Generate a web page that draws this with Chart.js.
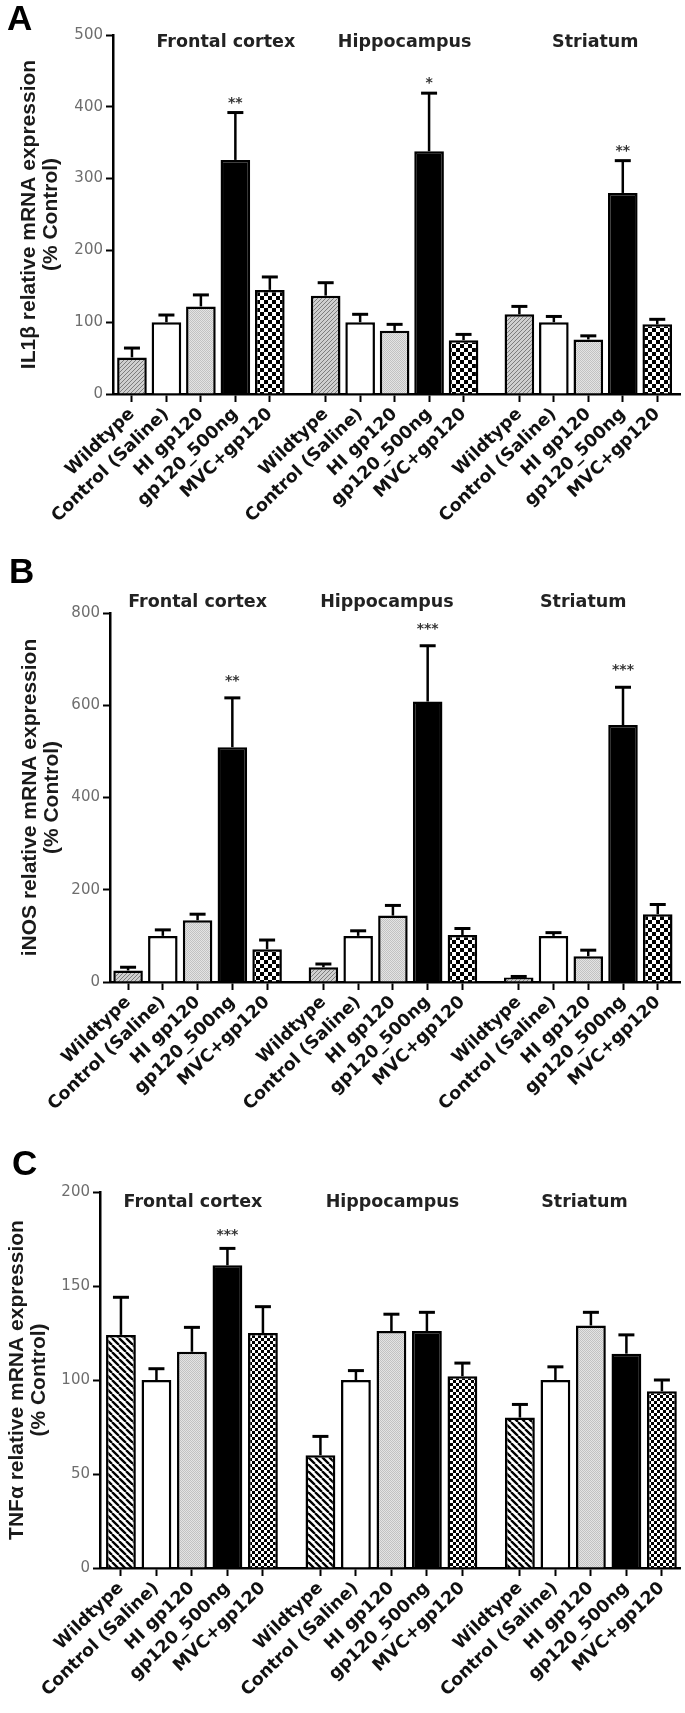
<!DOCTYPE html>
<html><head><meta charset="utf-8">
<script src="https://cdn.jsdelivr.net/npm/chart.js@4.4.1/dist/chart.umd.min.js"></script>
<style>
html,body{margin:0;padding:0;background:#fff;}
body{width:685px;height:1713px;position:relative;overflow:hidden;}
canvas{position:absolute;left:0;}
</style></head><body>
<canvas id="cA" width="685" height="540" style="top:0px"></canvas>
<canvas id="cB" width="685" height="588" style="top:540px"></canvas>
<canvas id="cC" width="685" height="585" style="top:1128px"></canvas>
<script>
// ---------- data ----------
const regions = ['Frontal cortex', 'Hippocampus', 'Striatum'];
const treatments = ['Wildtype', 'Control (Saline)', 'HI gp120', 'gp120_500ng', 'MVC+gp120'];

const il1bMean = [[51, 100, 122, 326, 145], [137, 100, 88, 338, 75], [111, 100, 76, 280, 97]];
const il1bSem  = [[13, 10, 16, 66, 18], [18, 11, 9, 81, 8], [11, 8, 5, 45, 7]];
const il1bSig  = [['', '', '', '**', ''], ['', '', '', '*', ''], ['', '', '', '**', '']];
const il1bTicks = [0, 100, 200, 300, 400, 500];

const inosMean = [[25, 100, 134, 509, 71], [32, 100, 144, 608, 102], [10, 100, 56, 557, 147]];
const inosSem  = [[7, 13, 13, 107, 20], [7, 11, 22, 121, 14], [2, 7, 13, 82, 21]];
const inosSig  = [['', '', '', '**', ''], ['', '', '', '***', ''], ['', '', '', '***', '']];
const inosTicks = [0, 200, 400, 600, 800];

const tnfMean = [[124, 100, 115, 161, 125], [60, 100, 126, 126, 102], [80, 100, 129, 114, 94]];
const tnfSem  = [[20, 6, 13, 9, 14], [10, 5, 9, 10, 7], [7, 7, 7, 10, 6]];
const tnfSig  = [['', '', '', '***', ''], ['', '', '', '', ''], ['', '', '', '', '']];
const tnfTicks = [0, 50, 100, 150, 200];

// ---------- styling helpers ----------
const GROUP_STRIDE = 5.62;
const TITLE_FONT = 'bold 17.5px "DejaVu Sans", sans-serif';

function tile(size, draw) {
  const c = document.createElement('canvas');
  c.width = c.height = size;
  draw(c.getContext('2d'), size);
  return c;
}
function patterns(ctx, wtStyle, cell) {
  const wt = wtStyle === 'fine'
    ? tile(4, (g, s) => { g.fillStyle = '#cfcfcf'; g.fillRect(0, 0, s, s); g.strokeStyle = '#7d7d7d'; g.lineWidth = 1; g.beginPath(); for (const k of [-s, 0, s]) { g.moveTo(k, s); g.lineTo(k + s, 0); } g.stroke(); })
    : tile(7, (g, s) => { g.fillStyle = '#fff'; g.fillRect(0, 0, s, s); g.strokeStyle = '#000'; g.lineWidth = 2.3; g.beginPath(); for (const k of [-s, 0, s]) { g.moveTo(k, 0); g.lineTo(k + s, s); } g.stroke(); });
  const hi = tile(2, (g) => { g.fillStyle = '#e4e4e4'; g.fillRect(0, 0, 2, 2); g.fillStyle = '#c2c2c2'; g.fillRect(0, 0, 1, 1); g.fillRect(1, 1, 1, 1); });
  const mvc = tile(cell * 2, (g, s) => { g.fillStyle = '#000'; g.fillRect(0, 0, s, s); g.fillStyle = '#fff'; g.fillRect(0, 0, cell, cell); g.fillRect(cell, cell, cell, cell); });
  return [ctx.createPattern(wt, 'repeat'), '#ffffff', ctx.createPattern(hi, 'repeat'), '#000000', ctx.createPattern(mvc, 'repeat')];
}

function buildPanel(cfg) {
  const canvas = document.getElementById(cfg.id);
  const ctx = canvas.getContext('2d');
  const fills = patterns(ctx, cfg.wtStyle, cfg.checker);
  const positions = [];
  const values = [];
  const colors = [];
  cfg.mean.forEach((grp, g) => grp.forEach((v, i) => {
    positions.push(g * GROUP_STRIDE + i);
    values.push({ x: g * GROUP_STRIDE + i, y: v });
    colors.push(fills[i]);
  }));
  const ticks = cfg.ticks;

  const decor = {
    id: 'decor',
    afterDatasetsDraw(chart) {
      const c = chart.ctx, ys = chart.scales.y, meta = chart.getDatasetMeta(0);
      c.save();
      meta.data.forEach((bar, k) => {
        const g = Math.floor(k / 5), i = k % 5;
        const m = cfg.mean[g][i], s = cfg.sem[g][i];
        const top = ys.getPixelForValue(m), et = ys.getPixelForValue(m + s);
        c.strokeStyle = '#000';
        c.lineWidth = 2.5;
        c.beginPath(); c.moveTo(bar.x, top); c.lineTo(bar.x, et); c.stroke();
        c.lineWidth = 3;
        c.beginPath(); c.moveTo(bar.x - 8, et); c.lineTo(bar.x + 8, et); c.stroke();
        const sg = cfg.sig[g][i];
        if (sg) {
          c.font = 'bold 14px "DejaVu Sans", sans-serif';
          c.fillStyle = '#333';
          c.textAlign = 'center';
          c.textBaseline = 'alphabetic';
          c.fillText(sg, bar.x, et - cfg.starGap + 8);
        }
      });
      c.restore();
    },
    afterDraw(chart) {
      const c = chart.ctx, xs = chart.scales.x;
      c.save();
      c.fillStyle = '#222';
      c.font = TITLE_FONT;
      c.textAlign = 'center';
      c.textBaseline = 'alphabetic';
      regions.forEach((r, g) => {
        const cx = xs.getPixelForValue(g * GROUP_STRIDE + 2) + cfg.titleDX[g];
        c.fillText(r, cx, cfg.titleBase);
      });
      c.fillStyle = '#000';
      c.font = 'bold 35px "Liberation Sans", Arial, sans-serif';
      c.textAlign = 'left';
      c.fillText(cfg.letter, cfg.letterX, cfg.letterBase);
      c.restore();
    }
  };

  return new Chart(ctx, {
    type: 'bar',
    data: {
      datasets: [{
        data: values,
        backgroundColor: colors,
        borderColor: '#000',
        borderWidth: 2.5,
        borderSkipped: 'start',
        barPercentage: cfg.barPct,
        categoryPercentage: 1
      }]
    },
    options: {
      responsive: false,
      animation: false,
      devicePixelRatio: 1,
      layout: { padding: { top: cfg.padTop, left: 0, right: 5, bottom: 0 } },
      plugins: { legend: { display: false }, tooltip: { enabled: false } },
      scales: {
        x: {
          type: 'linear',
          offset: false,
          min: cfg.xMin,
          max: cfg.xMax,
          z: 1,
          afterBuildTicks: (sc) => { sc.ticks = positions.map(p => ({ value: p })); },
          afterFit: (sc) => { sc.height = cfg.xHeight; },
          ticks: {
            autoSkip: false,
            maxRotation: 44,
            minRotation: 44,
            padding: 2,
            color: '#111',
            font: { family: '"DejaVu Sans", sans-serif', size: 17.5, weight: 'bold' },
            callback: (v, i) => treatments[i % 5]
          },
          grid: { display: true, drawOnChartArea: false, drawTicks: true, tickLength: 8, tickWidth: 2, tickColor: '#000', offset: false },
          border: { display: true, color: '#000', width: 2.5 }
        },
        y: {
          min: ticks[0],
          max: ticks[ticks.length - 1],
          z: 1,
          afterFit: (sc) => { sc.width = cfg.yWidth; },
          ticks: {
            stepSize: ticks[1] - ticks[0],
            padding: 3,
            color: '#6e6e6e',
            font: { family: '"DejaVu Sans", sans-serif', size: 15 }
          },
          grid: { display: true, drawOnChartArea: false, drawTicks: true, tickLength: 7, tickWidth: 2, tickColor: '#000' },
          border: { display: true, color: '#000', width: 2.5 },
          title: {
            display: true,
            text: [cfg.yTitle, '(% Control)'],
            color: '#1a1a1a',
            font: { family: '"Liberation Sans", Arial, sans-serif', size: 21, weight: 'bold', lineHeight: 1.05 },
            padding: { top: cfg.yTitlePad, bottom: 0 }
          }
        }
      }
    },
    plugins: [decor]
  });
}

buildPanel({ id: 'cA', mean: il1bMean, sem: il1bSem, sig: il1bSig, ticks: il1bTicks,
  yTitle: 'IL1β relative mRNA expression', letter: 'A', letterX: 7, letterBase: 30,
  padTop: 35, yWidth: 113, xHeight: 146, yTitlePad: 18, xMin: -0.55, xMax: 15.9, barPct: 0.86,
  titleDX: [25, 10, 7], titleBase: 47, starGap: 14, wtStyle: 'fine', checker: 4 });

buildPanel({ id: 'cB', mean: inosMean, sem: inosSem, sig: inosSig, ticks: inosTicks,
  yTitle: 'iNOS relative mRNA expression', letter: 'B', letterX: 9, letterBase: 43,
  padTop: 73, yWidth: 110, xHeight: 146, yTitlePad: 19, xMin: -0.52, xMax: 15.88, barPct: 0.85,
  titleDX: [0, -6, -5], titleBase: 67, starGap: 21, wtStyle: 'fine', checker: 4 });

buildPanel({ id: 'cC', mean: tnfMean, sem: tnfSem, sig: tnfSig, ticks: tnfTicks,
  yTitle: 'TNFα relative mRNA expression', letter: 'C', letterX: 12, letterBase: 47,
  padTop: 64, yWidth: 100, xHeight: 145, yTitlePad: 6, xMin: -0.59, xMax: 15.75, barPct: 0.84,
  titleDX: [1, 1, -6.5], titleBase: 79, starGap: 17, wtStyle: 'bold', checker: 3 });
</script>
</body></html>
